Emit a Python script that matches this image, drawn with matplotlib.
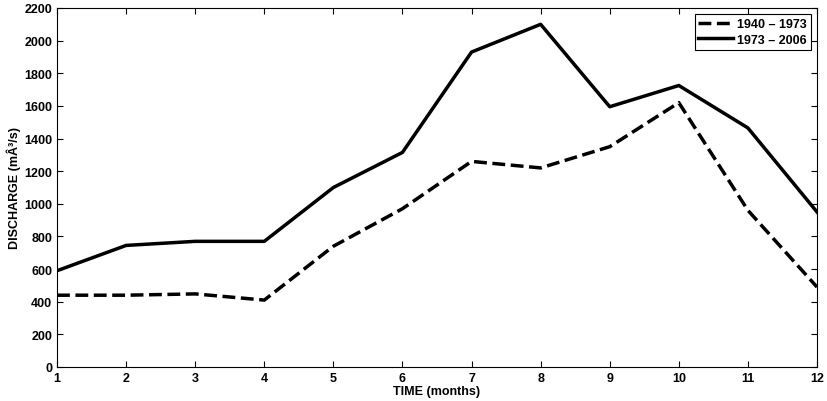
import matplotlib.pyplot as plt
import numpy as np

plt.rcParams['font.family'] = ['Liberation Sans', 'DejaVu Sans']
plt.rcParams['font.weight'] = 'bold'

# Monthly discharge
months = np.arange(1, 13)
q_1940_1973 = [440, 440, 448, 410, 740, 970, 1260, 1220, 1350, 1620, 960, 490]
q_1973_2006 = [590, 745, 770, 770, 1100, 1315, 1930, 2100, 1595, 1725, 1465, 950]

fig = plt.figure(figsize=(8.28, 4.02), dpi=100)
ax = fig.add_axes([57 / 828, 1 - 368 / 402, 760 / 828, 359 / 402])

ax.plot(months, q_1940_1973, 'k--', linewidth=2.5, label='1940 \u2013 1973')
ax.plot(months, q_1973_2006, 'k-', linewidth=2.5, label='1973 \u2013 2006')

ax.set_xlim(1, 12)
ax.set_ylim(0, 2200)
ax.set_xticks(months)
ax.set_yticks(np.arange(0, 2201, 200))
ax.tick_params(direction='in', top=True, right=True, labelsize=9, length=4)
ax.set_xlabel('TIME (months)', fontsize=9, fontweight='bold', labelpad=1)
ax.set_ylabel('DISCHARGE (m\u00c2\u00b3/s)', fontsize=9, fontweight='bold', labelpad=2)

leg = ax.legend(loc='upper right', fontsize=9, fancybox=False, framealpha=1,
                edgecolor='black', handlelength=2.8, borderpad=0.3,
                labelspacing=0.3, handletextpad=0.3)
leg.get_frame().set_linewidth(0.8)

fig.savefig('out.png', dpi=100)
